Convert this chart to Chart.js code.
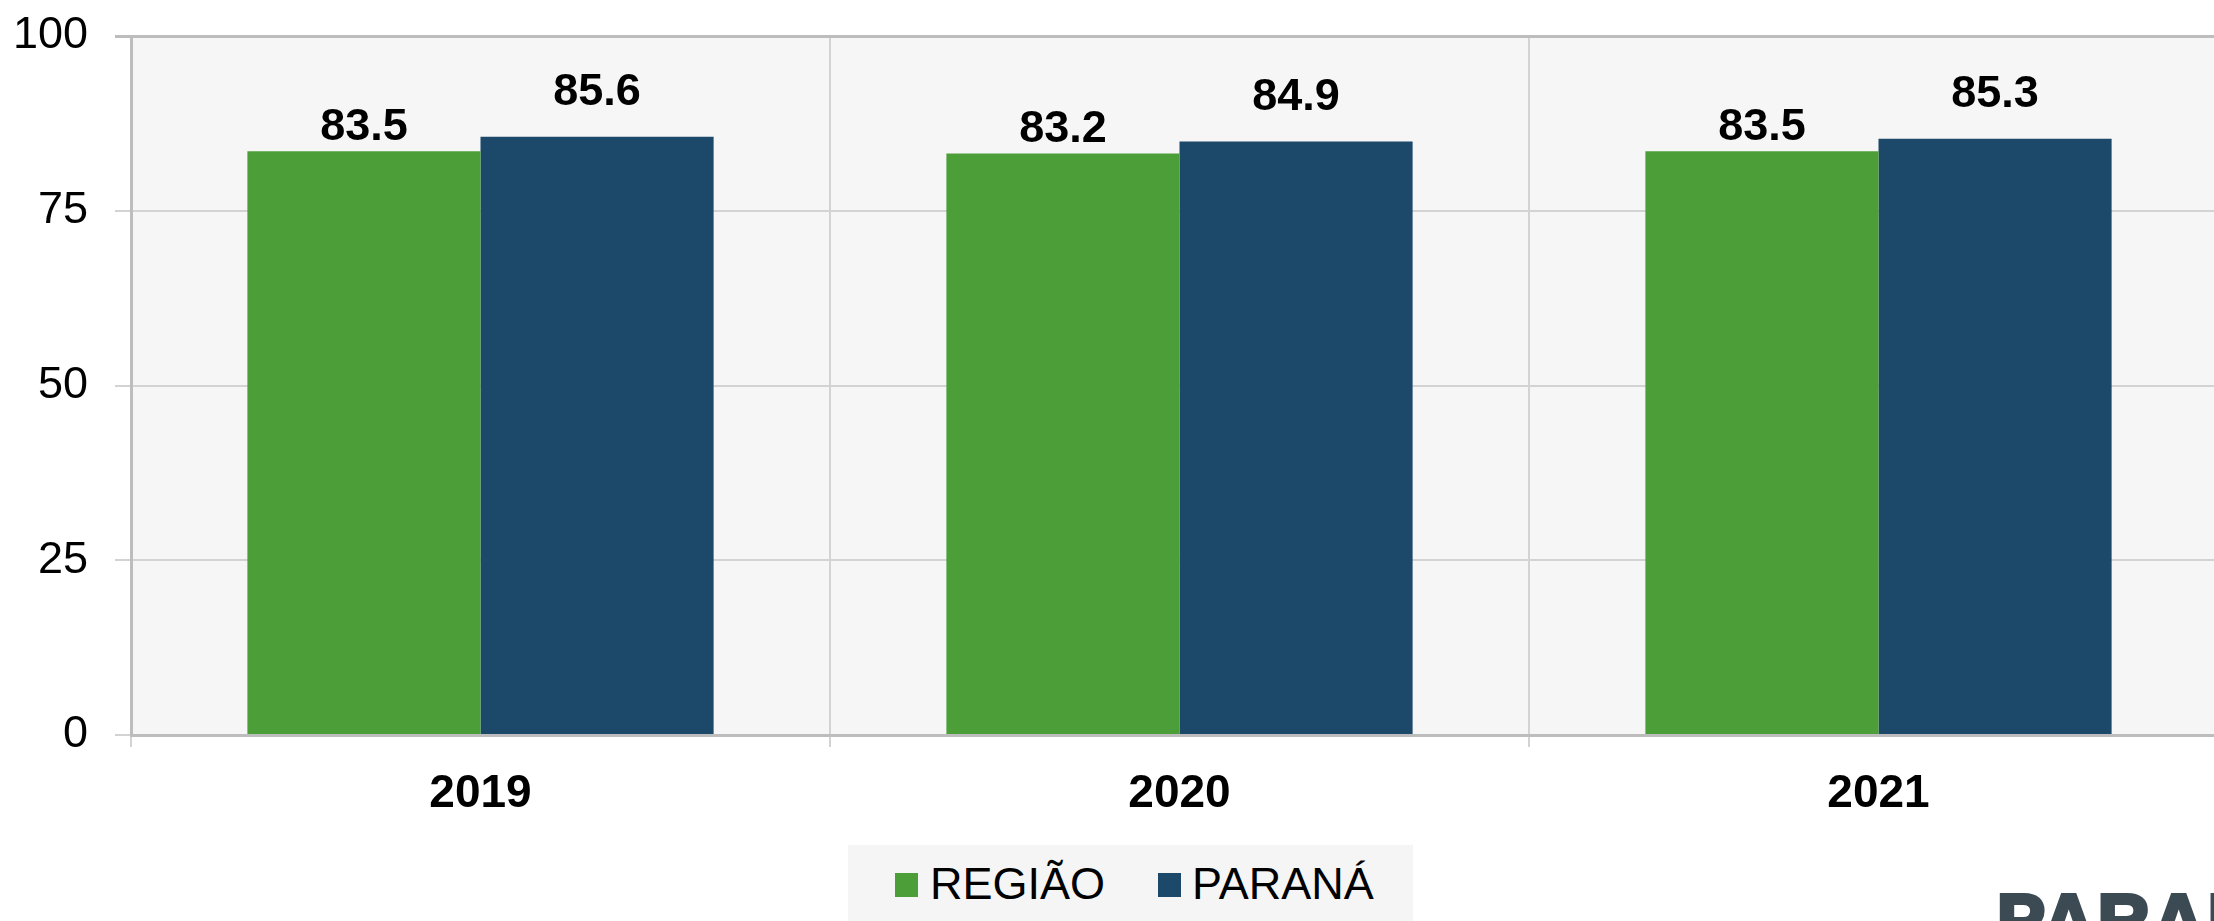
<!DOCTYPE html>
<html>
<head>
<meta charset="utf-8">
<title>Região x Paraná</title>
<script src="https://cdn.jsdelivr.net/npm/chart.js@4"></script>
<style>
  html, body { margin: 0; padding: 0; background: #fff; overflow: hidden; }
  #wrap { position: relative; width: 2240px; height: 921px; }
  #legend {
    position: absolute; left: 848px; top: 845px; width: 565px; height: 90px;
    background: #f5f5f5;
    font-family: "Liberation Sans", Arial, sans-serif; font-size: 45px; color: #000;
  }
  #legend .box { position: absolute; top: 28px; width: 23px; height: 24px; }
  #legend .txt { position: absolute; top: 16px; line-height: 45px; white-space: nowrap; }
  #logo {
    position: absolute; left: 1997px; top: 884px;
    font-family: "Liberation Sans", Arial, sans-serif; font-weight: bold;
    font-size: 72px; line-height: 72px; color: #3c4a53; white-space: nowrap;
    -webkit-text-stroke: 4px #3c4a53; letter-spacing: 3px;
  }
</style>
</head>
<body>
<div id="wrap">
  <canvas id="chart"></canvas>
  <div id="legend"></div>
  <div id="logo">PARANÁ</div>
</div>
<script>
// data
const categories = ['2019', '2020', '2021'];
const seriesNames = ['REGIÃO', 'PARANÁ'];
const regiaoValues = [83.5, 83.2, 83.5];
const paranaValues = [85.6, 84.9, 85.3];
const yTicks = [0, 25, 50, 75, 100];

const seriesColors = ['#4c9e39', '#1c4869'];
const labelGap = [11, 32]; // distance between bar top and its value label

// light grey plot background
const plotBg = {
  id: 'plotBg',
  beforeDraw(chart) {
    const { ctx, chartArea: a } = chart;
    ctx.save();
    ctx.fillStyle = '#f6f6f6';
    ctx.fillRect(a.left, a.top, a.right - a.left, a.bottom - a.top);
    ctx.restore();
  }
};

// value labels above bars
const valueLabels = {
  id: 'valueLabels',
  afterDatasetsDraw(chart) {
    const ctx = chart.ctx;
    ctx.save();
    ctx.font = 'bold 45px "Liberation Sans", Arial, sans-serif';
    ctx.fillStyle = '#000';
    ctx.textAlign = 'center';
    ctx.textBaseline = 'alphabetic';
    chart.data.datasets.forEach((ds, i) => {
      chart.getDatasetMeta(i).data.forEach((bar, j) => {
        ctx.fillText(ds.data[j].toFixed(1), bar.x, bar.y - labelGap[i]);
      });
    });
    ctx.restore();
  }
};

const ctx = document.getElementById('chart').getContext('2d');
const chart = new Chart(ctx, {
  type: 'bar',
  data: {
    labels: categories,
    datasets: [
      { label: seriesNames[0], data: regiaoValues, backgroundColor: seriesColors[0] },
      { label: seriesNames[1], data: paranaValues, backgroundColor: seriesColors[1] }
    ]
  },
  options: {
    responsive: true,
    maintainAspectRatio: false,
    animation: false,
    datasets: { bar: { categoryPercentage: 0.667, barPercentage: 1.0 } },
    layout: { padding: { top: 36, right: 12, bottom: 0, left: 0 } },
    plugins: {
      legend: { display: false },
      tooltip: { enabled: false }
    },
    scales: {
      x: {
        grid: { color: '#d3d3d3', lineWidth: 2, tickLength: 12, offset: true },
        border: { color: '#bdbdbd', width: 3 },
        ticks: {
          color: '#000',
          padding: 20,
          font: { family: '"Liberation Sans", Arial, sans-serif', size: 46, weight: 'bold' }
        },
        afterFit(scale) { scale.height = 186; }
      },
      y: {
        min: 0,
        max: 100,
        afterBuildTicks(scale) { scale.ticks = yTicks.map(v => ({ value: v })); },
        grid: {
          color: ctx => (ctx.tick && ctx.tick.value === 100 ? '#bdbdbd' : '#d3d3d3'),
          lineWidth: ctx => (ctx.tick && ctx.tick.value === 100 ? 3 : 2),
          tickLength: 16
        },
        border: { color: '#bdbdbd', width: 3 },
        ticks: {
          color: '#000',
          padding: 27,
          font: { family: '"Liberation Sans", Arial, sans-serif', size: 45 }
        },
        afterFit(scale) {
          scale.width = 131;
          scale.paddingTop = 0;
          scale.paddingBottom = 0;
        }
      }
    }
  },
  plugins: [plotBg, valueLabels]
});

// legend built from the datasets
const legend = document.getElementById('legend');
const legendPos = [[47, 82], [310, 344]];
chart.data.datasets.forEach((ds, i) => {
  const box = document.createElement('div');
  box.className = 'box';
  box.style.left = legendPos[i][0] + 'px';
  box.style.background = ds.backgroundColor;
  const txt = document.createElement('div');
  txt.className = 'txt';
  txt.style.left = legendPos[i][1] + 'px';
  txt.textContent = ds.label;
  legend.appendChild(box);
  legend.appendChild(txt);
});
</script>
</body>
</html>
